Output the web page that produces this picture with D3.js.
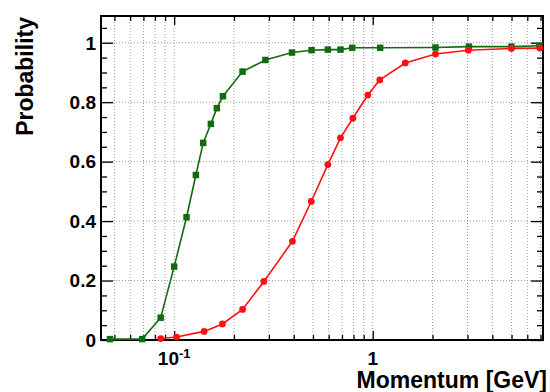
<!DOCTYPE html>
<meta charset="utf-8">
<style>
body { margin: 0; background: #fff; }
text {
  fill: #000;
  font-family: "Liberation Sans", Arial, sans-serif;
  font-weight: bold;
}
.grid line {
  stroke: #9a9a9a;
  stroke-width: 1;
  stroke-dasharray: 1,2;
}
</style>
<svg width="550" height="392"></svg>
<script src="https://d3js.org/d3.v7.min.js"></script>
<script>
// momentum values and probabilities
const greenX = [0.0475, 0.069, 0.0855, 0.100, 0.1154, 0.1286, 0.140, 0.153, 0.164, 0.176,
  0.221, 0.288, 0.392, 0.492, 0.594, 0.688, 0.788, 1.09, 2.07, 3.05, 4.99, 6.9]
const greenY = [0.003, 0.003, 0.075, 0.247, 0.413, 0.555, 0.663, 0.727, 0.780, 0.820,
  0.903, 0.942, 0.967, 0.975, 0.977, 0.977, 0.983, 0.983, 0.984, 0.987, 0.987, 0.990]
const redX = [0.0855, 0.1028, 0.1415, 0.175, 0.221, 0.283, 0.394, 0.490, 0.594, 0.688,
  0.794, 0.944, 1.085, 1.458, 2.07, 3.03, 4.99, 6.94]
const redY = [0.005, 0.010, 0.029, 0.054, 0.103, 0.197, 0.332, 0.466, 0.590, 0.680,
  0.746, 0.824, 0.875, 0.932, 0.962, 0.975, 0.981, 0.982]

const xMajor = [0.1, 1]
const xMinor = [0.05, 0.06, 0.07, 0.08, 0.09, 0.2, 0.3, 0.4, 0.5, 0.6, 0.7, 0.8, 0.9,
  2, 3, 4, 5, 6, 7]
const yMajor = [0, 0.2, 0.4, 0.6, 0.8, 1]
const yLabels = ["0", "0.2", "0.4", "0.6", "0.8", "1"]
const yMinor = [0.05, 0.1, 0.15, 0.25, 0.3, 0.35, 0.45, 0.5, 0.55, 0.65, 0.7, 0.75,
  0.85, 0.9, 0.95, 1.05]

var svg = d3.select("svg"),
    margin = {top: 16, right: 7, bottom: 52, left: 101},
    width = +svg.attr("width") - margin.left - margin.right,
    height = +svg.attr("height") - margin.top - margin.bottom,
    g = svg.append("g").attr("transform", "translate(" + margin.left + "," + margin.top + ")");

var x = d3.scaleLog()
    .domain([0.0428, 7.2])
    .range([0, width])

var y = d3.scaleLinear()
    .domain([0, 1.09])
    .range([height, 0])

// dotted grid
const grid = g.append("g").classed("grid", true)
grid.selectAll(".gx")
  .data(xMajor.concat(xMinor))
  .enter().append("line")
    .attr("x1", d => x(d)).attr("x2", d => x(d))
    .attr("y1", 0).attr("y2", height)
grid.selectAll(".gy")
  .data(yMajor.filter(d => d > 0))
  .enter().append("line")
    .attr("x1", 0).attr("x2", width)
    .attr("y1", d => y(d)).attr("y2", d => y(d))

// inward ticks on all four sides
function ticks(axis, vals, size) {
  return axis.tickValues(vals).tickSizeInner(-size).tickSizeOuter(0).tickFormat("")
}
const axes = g.append("g").attr("stroke-width", 1.3)
axes.append("g").attr("transform", `translate(0,${height})`).call(ticks(d3.axisBottom(x), xMajor, 9))
axes.append("g").attr("transform", `translate(0,${height})`).call(ticks(d3.axisBottom(x), xMinor, 5))
axes.append("g").call(ticks(d3.axisTop(x), xMajor, 9))
axes.append("g").call(ticks(d3.axisTop(x), xMinor, 5))
axes.append("g").call(ticks(d3.axisLeft(y), yMajor, 12))
axes.append("g").call(ticks(d3.axisLeft(y), yMinor, 6))
axes.append("g").attr("transform", `translate(${width},0)`).call(ticks(d3.axisRight(y), yMajor, 12))
axes.append("g").attr("transform", `translate(${width},0)`).call(ticks(d3.axisRight(y), yMinor, 6))
axes.selectAll(".domain").remove()
axes.selectAll("line").attr("stroke", "#000")

// frame
g.append("rect")
    .attr("width", width)
    .attr("height", height)
    .attr("fill", "none")
    .attr("stroke", "#000")
    .attr("stroke-width", 2)

// tick labels
g.selectAll(".ylab")
  .data(yMajor)
  .enter().append("text")
    .attr("x", -5)
    .attr("y", d => y(d))
    .attr("dy", "0.36em")
    .attr("text-anchor", "end")
    .attr("font-size", 19)
    .text((d, i) => yLabels[i])

const xl = g.append("text")
    .attr("x", x(0.1))
    .attr("y", height + 25)
    .attr("text-anchor", "middle")
    .attr("font-size", 19)
xl.append("tspan").text("10")
xl.append("tspan").attr("dy", -7).attr("font-size", 13).text("-1")

g.append("text")
    .attr("x", x(1))
    .attr("y", height + 25)
    .attr("text-anchor", "middle")
    .attr("font-size", 19)
    .text("1")

// axis titles
svg.append("text")
    .attr("x", 547)
    .attr("y", 388)
    .attr("text-anchor", "end")
    .attr("font-size", 23)
    .text("Momentum [GeV]")

svg.append("text")
    .attr("transform", "translate(33,17) rotate(-90)")
    .attr("text-anchor", "end")
    .attr("font-size", 23)
    .text("Probability")

// series
function series(xs, ys, color, shape) {
  const pts = xs.map((v, i) => [v, ys[i]])
  const line = d3.line().x(d => x(d[0])).y(d => y(d[1]))
  g.append("path")
      .datum(pts)
      .attr("d", line)
      .attr("fill", "none")
      .attr("stroke", color)
      .attr("stroke-width", 1.6)
  g.selectAll(null)
    .data(pts)
    .enter().append("path")
      .attr("transform", d => `translate(${x(d[0])},${y(d[1])})`)
      .attr("d", d3.symbol().type(shape).size(shape === d3.symbolSquare ? 42 : 36))
      .attr("fill", color)
}
series(greenX, greenY, "#116b11", d3.symbolSquare)
series(redX, redY, "#ff1010", d3.symbolCircle)
</script>
